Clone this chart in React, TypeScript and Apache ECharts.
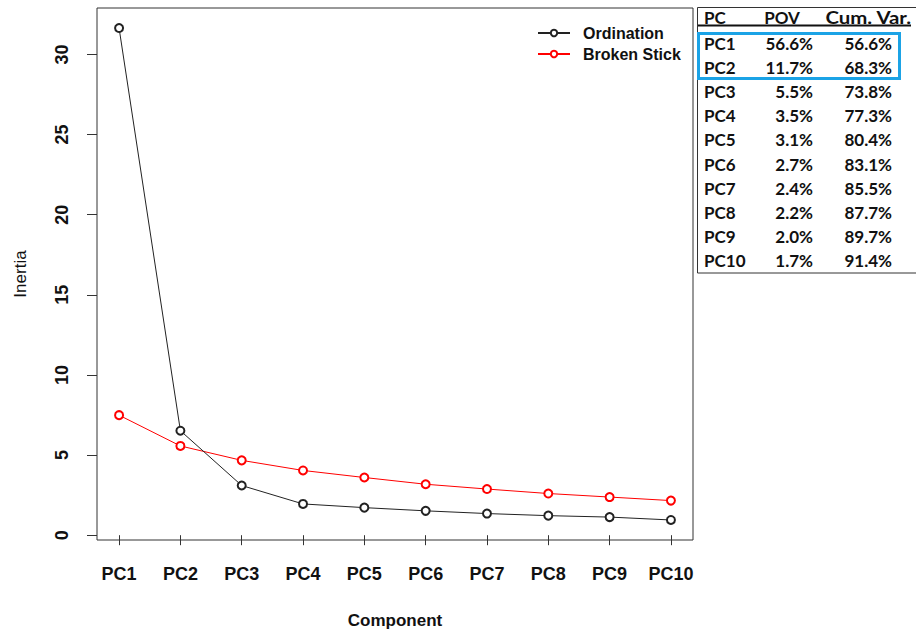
import React, { useEffect, useRef } from "react";
import * as echarts from "echarts";

// Components on the x axis
const components = ["PC1", "PC2", "PC3", "PC4", "PC5", "PC6", "PC7", "PC8", "PC9", "PC10"];
// Inertia of each component (ordination eigenvalues)
const ordination = [31.65, 6.52, 3.1, 1.95, 1.72, 1.52, 1.35, 1.22, 1.13, 0.95];
// Broken-stick expectation for each component
const brokenStick = [7.49, 5.57, 4.67, 4.04, 3.6, 3.18, 2.88, 2.6, 2.38, 2.16];
// Proportion of variance and cumulative variance (%) for the side table
const povPct = [56.6, 11.7, 5.5, 3.5, 3.1, 2.7, 2.4, 2.2, 2.0, 1.7];
const cumPct = [56.6, 68.3, 73.8, 77.3, 80.4, 83.1, 85.5, 87.7, 89.7, 91.4];
// Y tick values
const yTicks = [0, 5, 10, 15, 20, 25, 30];

const AXIS_FONT = "'Liberation Sans', Arial, sans-serif";
const TABLE_FONT = "Lato, 'Open Sans', sans-serif";

function buildTable() {
  const els: any[] = [];
  const txt = "#111";
  const tStyle = (text: string, x: number, y: number, align: string, scaleX = 1) => ({
    type: "text",
    x,
    y,
    scaleX,
    style: {
      text,
      fill: txt,
      font: `bold 17px ${TABLE_FONT}`,
      textAlign: align,
      textVerticalAlign: "middle",
    },
  });
  // table frame
  els.push({
    type: "rect",
    shape: { x: 697.5, y: 7.5, width: 240, height: 265.5 },
    style: { fill: "none", stroke: "#333", lineWidth: 1 },
  });
  // header
  els.push(tStyle("PC", 704, 17, "left"));
  els.push(tStyle("POV", 782, 17, "center"));
  els.push(tStyle("Cum. Var.", 911, 17, "right", 1.2));
  els.push({
    type: "line",
    shape: { x1: 698, y1: 25.5, x2: 911, y2: 25.5 },
    style: { stroke: "#111", lineWidth: 2 },
  });
  components.forEach((c, i) => {
    const y = 43 + i * 24.2;
    els.push(tStyle(c, 704, y, "left"));
    els.push(tStyle(`${povPct[i].toFixed(1)}%`, 813, y, "right"));
    els.push(tStyle(`${cumPct[i].toFixed(1)}%`, 892, y, "right"));
  });
  // highlight of the first two components
  els.push({
    type: "rect",
    shape: { x: 698.5, y: 33.5, width: 201, height: 45 },
    style: { fill: "none", stroke: "#1ba3e6", lineWidth: 3 },
  });
  return els;
}

export default function App() {
  const ref = useRef<HTMLDivElement>(null);

  useEffect(() => {
    if (!ref.current) return;
    const chart = echarts.init(ref.current, null, { renderer: "svg" });
    const xs = components.map((_, i) => i + 1);

    chart.setOption({
      animation: false,
      backgroundColor: "#fff",
      grid: {
        left: 97,
        right: 223,
        top: 8,
        bottom: 91,
        containLabel: false,
        outerBoundsMode: "none",
        show: true,
        borderColor: "#333",
        borderWidth: 1,
        backgroundColor: "transparent",
      },
      legend: {
        orient: "vertical",
        left: 532,
        top: 20,
        itemWidth: 32,
        itemHeight: 8,
        itemGap: 5,
        selectedMode: false,
        data: ["Ordination", "Broken Stick"],
        textStyle: {
          fontFamily: AXIS_FONT,
          fontWeight: "bold",
          fontSize: 16,
          color: "#111",
          padding: [0, 0, 0, 8],
        },
      },
      xAxis: {
        type: "value",
        min: 0.64,
        max: 10.36,
        name: "Component",
        nameLocation: "middle",
        nameGap: 72,
        nameTextStyle: {
          fontFamily: AXIS_FONT,
          fontWeight: "bold",
          fontSize: 17,
          color: "#111",
        },
        splitLine: { show: false },
        axisLine: { show: false },
        axisTick: {
          show: true,
          customValues: xs,
          length: 10,
          lineStyle: { color: "#333" },
        },
        axisLabel: {
          customValues: xs,
          formatter: (v: number) => components[Math.round(v) - 1] ?? "",
          fontFamily: AXIS_FONT,
          fontWeight: "bold",
          fontSize: 18,
          color: "#111",
          margin: 25,
        },
      },
      yAxis: {
        type: "value",
        min: -0.3,
        max: 32.9,
        name: "Inertia",
        nameLocation: "middle",
        nameGap: 68,
        nameRotate: 90,
        nameTextStyle: {
          fontFamily: AXIS_FONT,
          fontSize: 17,
          color: "#111",
        },
        splitLine: { show: false },
        axisLine: { show: false },
        axisTick: {
          show: true,
          customValues: yTicks,
          length: 10,
          lineStyle: { color: "#333" },
        },
        axisLabel: {
          customValues: yTicks,
          rotate: 90,
          fontFamily: AXIS_FONT,
          fontWeight: "bold",
          fontSize: 18,
          color: "#111",
          margin: 26,
        },
      },
      series: [
        {
          name: "Ordination",
          type: "line",
          data: xs.map((x, i) => [x, ordination[i]]),
          symbol: "emptyCircle",
          symbolSize: 8,
          lineStyle: { color: "#222", width: 1 },
          itemStyle: { color: "#222", borderWidth: 0.9 },
          z: 3,
        },
        {
          name: "Broken Stick",
          type: "line",
          data: xs.map((x, i) => [x, brokenStick[i]]),
          symbol: "emptyCircle",
          symbolSize: 8,
          lineStyle: { color: "#ff0000", width: 1 },
          itemStyle: { color: "#ff0000", borderWidth: 0.9 },
          z: 2,
        },
      ],
      graphic: buildTable(),
    });

    return () => chart.dispose();
  }, []);

  return (
    <div
      ref={ref}
      style={{ position: "fixed", left: 0, top: 0, width: 916, height: 631, background: "#fff" }}
    />
  );
}
